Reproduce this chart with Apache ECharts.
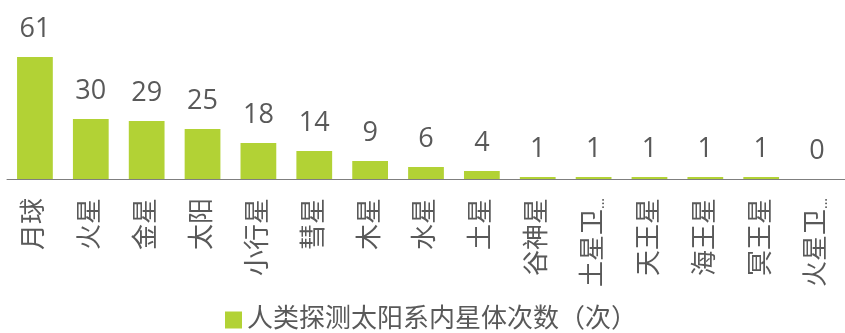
<!DOCTYPE html>
<html>
<head>
<meta charset="utf-8">
<script src="https://cdn.jsdelivr.net/npm/echarts@6/dist/echarts.min.js"></script>
<style>
  html, body { margin: 0; padding: 0; background: #fff; }
  #chart { width: 845px; height: 333px; }
</style>
</head>
<body>
<div id="chart"></div>
<script>
// bodies explored, ordered by count
const bodies = ['月球', '火星', '金星', '太阳', '小行星', '彗星', '木星', '水星', '土星',
                '谷神星', '土星卫星', '天王星', '海王星', '冥王星', '火星卫星'];
const missions = [61, 30, 29, 25, 18, 14, 9, 6, 4, 1, 1, 1, 1, 1, 0];
const seriesName = '人类探测太阳系内星体次数（次）';

const chart = echarts.init(document.getElementById('chart'));
chart.setOption({
    animation: false,
    textStyle: { fontFamily: '"Open Sans", "Noto Sans CJK SC", sans-serif' },
    grid: { left: 7, right: -3, top: 57, bottom: 154, containLabel: false },
    legend: {
        bottom: -5,
        left: 220,
        itemWidth: 17,
        itemHeight: 17,
        itemGap: 8,
        icon: 'rect',
        textStyle: { fontSize: 26, color: '#595959' },
        data: [seriesName]
    },
    xAxis: {
        type: 'category',
        data: bodies,
        axisLine: { lineStyle: { color: '#7f7f7f', width: 1 } },
        axisTick: { show: false },
        axisLabel: {
            rotate: 90,
            interval: 0,
            margin: 19,
            fontSize: 26,
            color: '#595959',
            // long names get cut like the original, with small dots
            formatter: name => name.length > 3 ? '{t|' + name.slice(0, 3) + '}{d|...}' : name,
            rich: {
                t: { fontSize: 26, color: '#595959' },
                d: { fontSize: 14, color: '#595959', verticalAlign: 'bottom' }
            }
        }
    },
    yAxis: {
        type: 'value',
        min: 0,
        max: 'dataMax',
        show: false,
        splitLine: { show: false }
    },
    series: [{
        name: seriesName,
        type: 'bar',
        data: missions,
        barCategoryGap: '36%',
        itemStyle: { color: '#b2d235' },
        label: {
            show: true,
            position: 'top',
            distance: 14,
            fontSize: 27,
            color: '#595959'
        }
    }]
});
</script>
</body>
</html>
